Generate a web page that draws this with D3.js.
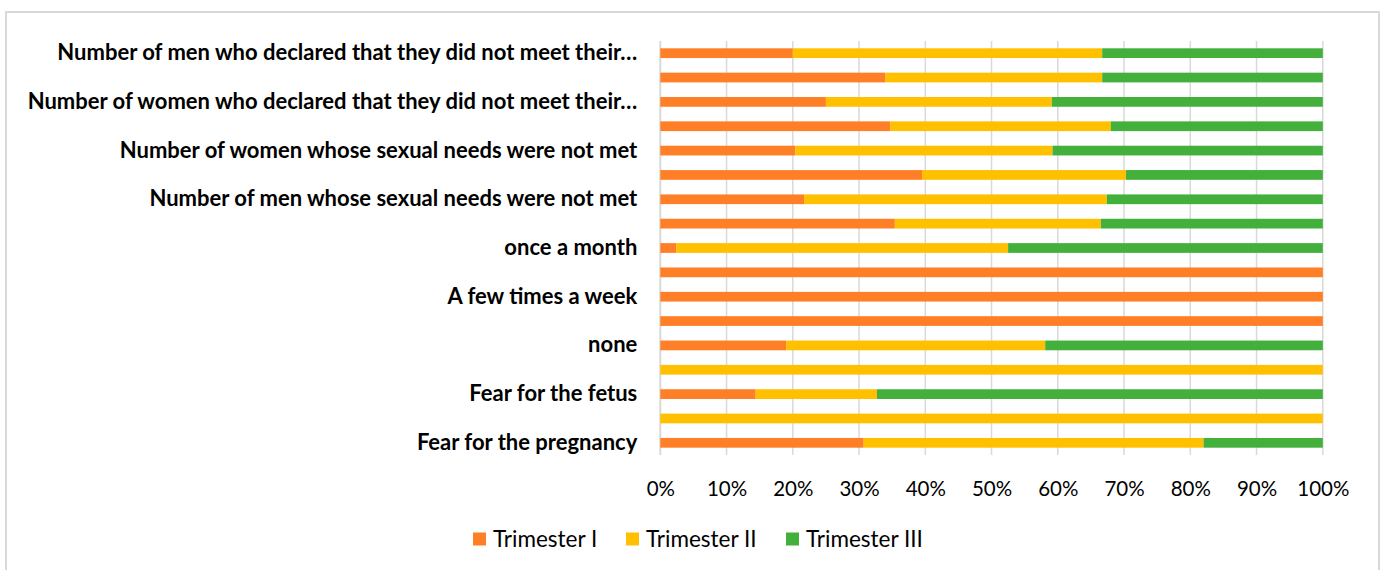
<!DOCTYPE html>
<html>
<head>
<meta charset="utf-8">
<script src="https://cdn.jsdelivr.net/npm/d3@7"></script>
<style>
  html, body { margin: 0; padding: 0; background: #ffffff; }
  svg { display: block; }
</style>
</head>
<body>
<svg id="chart" width="1387" height="570"></svg>
<script>
// Row labels, top to bottom; rows without a printed label are blank.
const rowLabels = [
  "Number of men who declared that they did not meet their…",
  "",
  "Number of women who declared that they did not meet their…",
  "",
  "Number of women whose sexual needs were not met",
  "",
  "Number of men whose sexual needs were not met",
  "",
  "once a month",
  "",
  "A few times a week",
  "",
  "none",
  "",
  "Fear for the fetus",
  "",
  "Fear for the pregnancy"
];

const seriesNames = ["Trimester I", "Trimester II", "Trimester III"];
const seriesColors = ["#ff7f27", "#ffc000", "#44b03c"];

// Share of each trimester (percent), same row order as rowLabels.
const trimesterI   = [20.0, 34.0, 25.0, 34.7, 20.4, 39.5, 21.7, 35.4, 2.4, 100, 100, 100, 19.0, 0, 14.4, 0, 30.7];
const trimesterII  = [46.7, 32.7, 34.1, 33.3, 38.8, 30.8, 45.7, 31.1, 50.1, 0, 0, 0, 39.1, 100, 18.3, 100, 51.3];
const trimesterIII = [33.3, 33.3, 40.9, 32.0, 40.8, 29.7, 32.6, 33.5, 47.5, 0, 0, 0, 41.9, 0, 67.3, 0, 18.0];

const tickValues = [0, 0.1, 0.2, 0.3, 0.4, 0.5, 0.6, 0.7, 0.8, 0.9, 1.0];

const rows = rowLabels.map((label, i) => {
  const vals = [trimesterI[i], trimesterII[i], trimesterIII[i]];
  const total = d3.sum(vals);
  return { index: i, label, shares: vals.map(v => v / total) };
});

const svg = d3.select("#chart");
const fontFamily = "Lato, 'Open Sans', sans-serif";

// Outer chart frame
svg.append("rect")
  .attr("x", 6).attr("y", 12)
  .attr("width", 1373).attr("height", 570)
  .attr("fill", "#ffffff")
  .attr("stroke", "#d9d9d9")
  .attr("stroke-width", 2);

const plot = { left: 660.3, right: 1322.8, top: 41, bottom: 455 };

const x = d3.scaleLinear().domain([0, 1]).range([plot.left, plot.right]);
const y = d3.scaleBand()
  .domain(d3.range(rows.length))
  .range([plot.top, plot.bottom])
  .paddingInner(0.6)
  .paddingOuter(0.3);

// Vertical gridlines
svg.append("g")
  .selectAll("line")
  .data(tickValues)
  .join("line")
  .attr("x1", d => x(d)).attr("x2", d => x(d))
  .attr("y1", plot.top).attr("y2", plot.bottom)
  .attr("stroke", "#d9d9d9")
  .attr("stroke-width", d => d === 0 ? 2 : 1.5);

// Stacked bars
const stackData = rows.map(r => {
  let acc = 0;
  return r.shares.map((s, k) => {
    const seg = { row: r.index, series: k, x0: acc, x1: acc + s };
    acc += s;
    return seg;
  });
}).flat().filter(d => d.x1 > d.x0);

svg.append("g")
  .selectAll("rect")
  .data(stackData)
  .join("rect")
  .attr("x", d => x(d.x0))
  .attr("width", d => x(d.x1) - x(d.x0))
  .attr("y", d => y(d.row))
  .attr("height", y.bandwidth())
  .attr("fill", d => seriesColors[d.series]);

// Category axis labels
const yAxis = d3.axisLeft(y)
  .tickSize(0)
  .tickPadding(23)
  .tickFormat(i => rowLabels[i]);

svg.append("g")
  .attr("transform", `translate(${plot.left},0)`)
  .call(yAxis)
  .call(g => g.select(".domain").remove())
  .selectAll("text")
  .attr("font-family", fontFamily)
  .attr("font-weight", 700)
  .attr("font-size", 22)
  .attr("fill", "#000000");

// Percentage axis
const xAxis = d3.axisBottom(x)
  .tickValues(tickValues)
  .tickSize(0)
  .tickPadding(26)
  .tickFormat(d3.format(".0%"));

svg.append("g")
  .attr("transform", `translate(0,${plot.bottom})`)
  .call(xAxis)
  .call(g => g.select(".domain").remove())
  .selectAll("text")
  .attr("font-family", fontFamily)
  .attr("font-size", 20.5)
  .attr("fill", "#000000");

// Legend
const legendItems = [
  { name: seriesNames[0], color: seriesColors[0], x: 473 },
  { name: seriesNames[1], color: seriesColors[1], x: 626 },
  { name: seriesNames[2], color: seriesColors[2], x: 786 }
];
const legend = svg.append("g");
const item = legend.selectAll("g")
  .data(legendItems)
  .join("g")
  .attr("transform", d => `translate(${d.x},539)`);
item.append("rect")
  .attr("x", 0).attr("y", -6.5)
  .attr("width", 13).attr("height", 13)
  .attr("fill", d => d.color);
item.append("text")
  .attr("x", 20).attr("y", 0)
  .attr("dy", "0.35em")
  .attr("font-family", fontFamily)
  .attr("font-size", 22.5)
  .attr("fill", "#000000")
  .text(d => d.name);
</script>
</body>
</html>
